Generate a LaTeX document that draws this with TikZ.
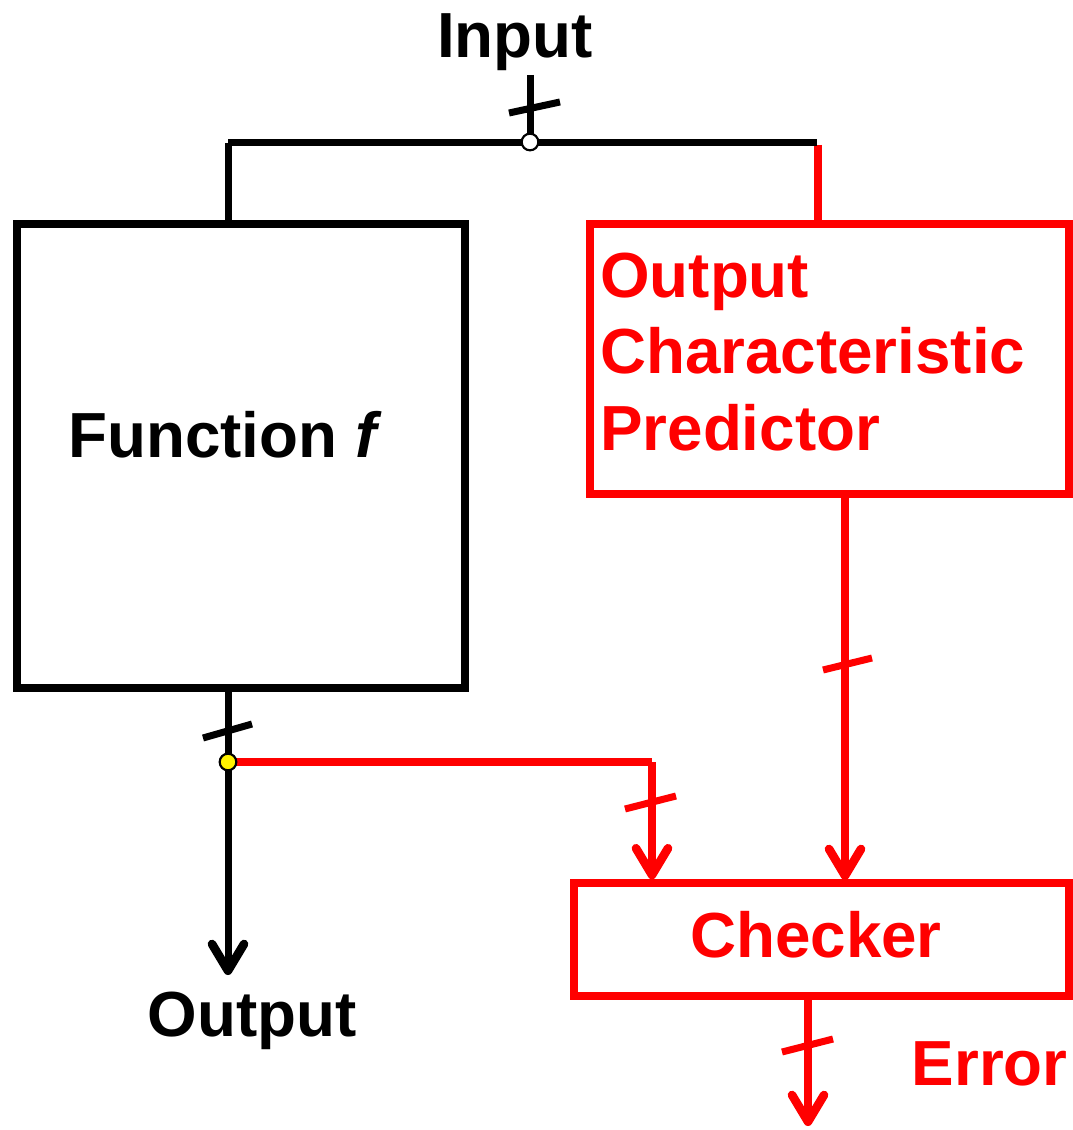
\documentclass[tikz,border=0pt]{standalone}
\usepackage{fontspec}
\setmainfont{Liberation Sans}
\usetikzlibrary{arrows.meta}
\definecolor{cred}{RGB}{255,0,0}
\begin{document}
\begin{tikzpicture}[x=0.75pt,y=-0.75pt,
  lbl/.style={font=\fontsize{47.8}{57.75}\selectfont\bfseries, inner sep=0pt},
  blk/.style={draw=black, line width=5.25pt},
  rline/.style={draw=cred, line width=5.6pt},
  boxk/.style={draw=black, line width=5.6pt, inner sep=0pt},
  boxr/.style={draw=cred, line width=5.6pt, inner sep=0pt},
  arr/.style={-{Straight Barb[length=20pt,width=24pt,line width=6.5pt,round]}},
  tickk/.style={line width=5.25pt},
  dot/.style={circle, draw=black, line width=1.6pt, minimum size=12.5pt, inner sep=0pt}
]
\useasboundingbox (0,0) rectangle (1072,1130);

% boxes
\node[boxk, minimum width=336pt, minimum height=348pt] (fbox) at (241,456) {};
\node[boxr, minimum width=359.25pt, minimum height=202.5pt] (pbox) at (829.5,359) {};
\node[boxr, minimum width=371.25pt, minimum height=84.75pt] (cbox) at (821.5,939.5) {};

% texts
\node[lbl, anchor=base] (input) at (515,58) {Input};
\node[lbl, anchor=base] (ftext) at (225,457) {Function \textit{f}};
\node[lbl, anchor=base west, text=cred] (p1) at (600,297) {Output};
\node[lbl, anchor=base west, text=cred] (p2) at (600,373) {Characteristic};
\node[lbl, anchor=base west, text=cred] (p3) at (600,450) {Predictor};
\node[lbl, anchor=base, text=cred] (ctext) at (816,957) {Checker};
\node[lbl, anchor=base] (outtext) at (252,1036) {Output};
\node[lbl, anchor=base east, text=cred] (errtext) at (1068,1085) {Error};

% coordinates
\coordinate (instart) at (530,75);
\coordinate (inj) at (530,142);
\coordinate (tl) at (228,143);
\coordinate (tr) at (817,143);
\coordinate (fo) at (228,688);
\coordinate (oj) at (228,762);
\coordinate (ocorner) at (652,762);
\coordinate (outend) at (228,975);
\coordinate (errend) at (808,1126);

% input distribution
\draw[rline] (818,145) -- (818,222);
\draw[blk] (tl) -- (tr);
\draw[blk] (tl) -- (tl |- fbox.north);
\draw[blk] (instart) -- (inj);
\draw[tickk] (509,113) -- (560,102);

% function output
\draw[blk] (fo) -- (oj);
\draw[blk, arr] (oj) -- (outend);
\draw[tickk] (203,738) -- (252,724);

% red branch to checker
\draw[rline] (oj) -- (ocorner);
\draw[rline, arr] (ocorner) -- (ocorner |- cbox.north);
\draw[tickk, draw=cred] (625,809) -- (676,796);

% predictor to checker
\draw[rline, arr] (845,494) -- (845,880);
\draw[tickk, draw=cred] (823,670) -- (872,658);

% checker error output
\draw[rline, arr] (808,996) -- (errend);
\draw[tickk, draw=cred] (782,1052) -- (833,1039);

% junction dots
\node[dot, fill=white] (injdot) at (inj) {};
\node[dot, fill=yellow] (ojdot) at (oj) {};
\end{tikzpicture}
\end{document}
